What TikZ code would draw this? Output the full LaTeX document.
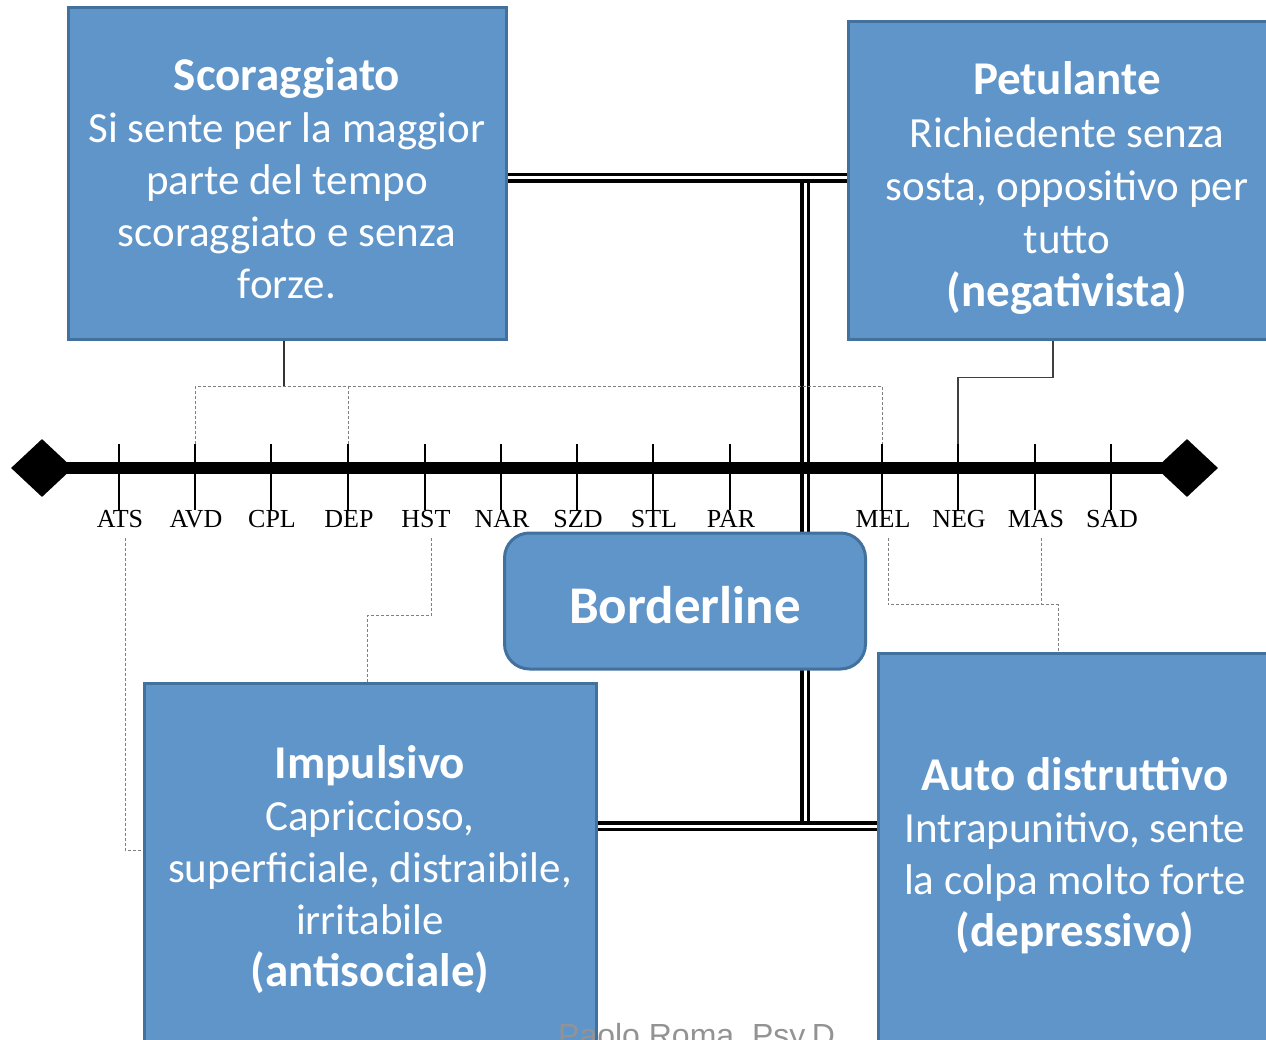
\documentclass[tikz,border=0pt]{standalone}
\usepackage{fontspec}
\setmainfont{Carlito}
\newfontfamily\labfont{Liberation Serif}
\newfontfamily\markfont{Liberation Sans}
\usetikzlibrary{shapes.geometric,backgrounds}
\definecolor{boxblue}{RGB}{96,149,201}
\definecolor{boxedge}{RGB}{65,113,156}

\begin{document}
\begin{tikzpicture}[x=1pt,y=-1pt,
	box/.style={draw=boxedge, line width=3pt, fill=boxblue, inner sep=0pt},
	boxtext/.style={text=white, align=center, inner sep=0pt, font=\fontsize{43}{52}\selectfont},
	dbl/.style={double, double distance=3pt, line width=3.5pt},
	tick/.style={line width=1.5pt},
	axlabel/.style={font=\labfont\fontsize{26}{26}\selectfont, inner sep=0pt},
	dashlink/.style={gray, line width=1pt, dash pattern=on 3pt off 2pt},
	endmark/.style={diamond, fill=black, minimum width=62pt, minimum height=58pt, inner sep=0pt}]
	\useasboundingbox (0,0) rectangle (1266,1040);
	
	% boxes
	\node[box, minimum width=438pt, minimum height=332pt] (scor) at (287,174) {};
	\node[box, minimum width=438pt, minimum height=318pt] (petu) at (1067,181) {};
	\node[box, rounded corners=25pt, minimum width=361pt, minimum height=136pt] (bord) at (685,601) {};
	\node[box, minimum width=452pt, minimum height=368pt] (impu) at (370,867) {};
	\node[box, minimum width=394pt, minimum height=398pt] (auto) at (1075,852) {};
	
	\node[boxtext] (scortxt) at ([yshift=-4pt]scor.center) {\textbf{\fontsize{47}{52}\selectfont Scoraggiato}\\Si sente per la maggior\\parte del tempo\\scoraggiato e senza\\forze.};
	\node[boxtext, font=\fontsize{43}{53}\selectfont] (petutxt) at ([yshift=-7pt]petu.center) {\textbf{\fontsize{47}{53}\selectfont Petulante}\\Richiedente senza\\sosta, oppositivo per\\tutto\\\textbf{\fontsize{47}{56}\selectfont(negativista)}};
	\node[boxtext, font=\bfseries\fontsize{53}{56}\selectfont] (bordtxt) at ([yshift=-4pt]bord.center) {Borderline};
	\node[boxtext] (imputxt) at ([yshift=-3pt]impu.center) {\textbf{\fontsize{47}{52}\selectfont Impulsivo}\\Capriccioso,\\superficiale, distraibile,\\irritabile\\\textbf{\fontsize{47}{55}\selectfont(antisociale)}};
	\node[boxtext] (autotxt) at ([yshift=-4pt]auto.center) {\textbf{\fontsize{47}{53}\selectfont Auto distruttivo}\\Intrapunitivo, sente\\la colpa molto forte\\\textbf{\fontsize{47}{56}\selectfont(depressivo)}};
	
	% axis
	\node[endmark] (left) at (42,468) {};
	\node[endmark] (right) at (1187,468) {};
	
	\foreach \lab/\x in {ATS/119,AVD/195,CPL/271,DEP/348,HST/425,NAR/501,SZD/577,STL/653,PAR/730,MEL/882,NEG/958,MAS/1035,SAD/1111}{
		\coordinate (t\lab) at (\x,444);
		\draw[tick] (t\lab) -- ++(0,66);
		\node[axlabel] (\lab) at (\x+1,519) {\lab};
	}
	
	\begin{scope}[on background layer]
		\coordinate (top) at (805,178);
		\coordinate (bot) at (805,826);
		\draw[dbl] (top) -- (bot);
		\draw[dbl] (scor.east |- top) -- (petu.west |- top);
		\draw[dbl] (impu.east |- bot) -- (auto.west |- bot);
		\draw[line width=12pt] (left.center) -- (right.center);
	\end{scope}
	
	% links
	\draw[line width=1.2pt, black!80] ([xshift=-3pt]scor.south) -- ++(0,45) coordinate (hub);
	\draw[dashlink] (tAVD) |- (hub) -| (tMEL);
	\draw[dashlink] (tDEP) -- (tDEP |- hub);
	\draw[line width=1.2pt, black!75] ([xshift=-14pt]petu.south) -- ++(0,36) -| (tNEG);
	\draw[dashlink] ([xshift=5pt,yshift=-10pt]ATS.south) |- ([yshift=17pt]impu.west);
	\draw[dashlink] ([xshift=5pt,yshift=-10pt]HST.south) -- ++(0,78) -| ([xshift=-3pt]impu.north);
	\draw[dashlink] ([xshift=5pt,yshift=-10pt]MEL.south) |- ([xshift=-17pt,yshift=47pt]auto.north) -- ([xshift=-17pt]auto.north);
	\draw[dashlink] ([xshift=5pt,yshift=-10pt]MAS.south) -- ++(0,66);
	
	\node[anchor=base west, inner sep=0pt, text=gray!85, font=\markfont\fontsize{32}{32}\selectfont] (mark) at (558,1046) {Paolo Roma, Psy.D};
\end{tikzpicture}
\end{document}
